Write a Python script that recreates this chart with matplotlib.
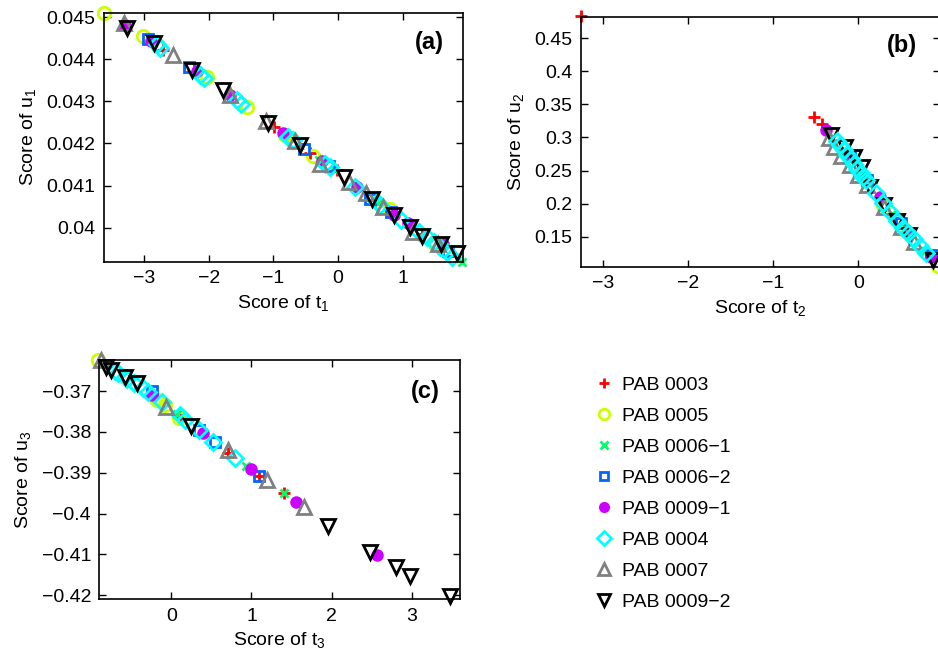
import numpy as np
import matplotlib
matplotlib.use('Agg')
import matplotlib.pyplot as plt
from matplotlib.ticker import FuncFormatter

plt.rcParams['font.family'] = ['Liberation Sans', 'DejaVu Sans']
plt.rcParams['mathtext.default'] = 'regular'
plt.rcParams['font.size'] = 14

labels = ['PAB 0003', 'PAB 0005', 'PAB 0006\u22121', 'PAB 0006\u22122',
          'PAB 0009\u22121', 'PAB 0004', 'PAB 0007', 'PAB 0009\u22122']

# panel (a): score of t1 vs u1, one list of (t, u) per sample
a_t = [
    [-2.70, -0.99, -0.43, -0.02, 1.30],
    [-3.62, -3.01, -2.03, -1.41, -0.82, -0.38, 0.80, 1.50],
    [-0.30, -0.04, 0.62, 1.92],
    [-2.94, -2.30, -0.53, -0.14, 0.49, 0.82, 1.71],
    [-3.29, -2.89, -2.18, -1.67, -0.85, -0.25, 0.30, 0.87, 1.09, 1.63],
    [-2.80, -2.75, -2.13, -2.08, -1.56, -1.50, -0.77, -0.69, -0.20, -0.12,
     0.27, 0.60, 0.65, 0.98, 1.25, 1.38, 1.48, 1.58, 1.69, 1.76],
    [-3.31, -2.55, -1.67, -1.11, -0.66, -0.28, 0.17, 0.44, 0.70, 1.16, 1.55],
    [-3.27, -2.84, -2.26, -1.78, -1.08, -0.59, 0.09, 0.52, 0.87, 1.12, 1.30, 1.60, 1.84],
]
a_u = [
    [0.04422, 0.04240, 0.04178, 0.04136, 0.03985],
    [0.04511, 0.04455, 0.04357, 0.04286, 0.04221, 0.04170, 0.04045, 0.03960],
    [0.04160, 0.04138, 0.04058, 0.03918],
    [0.04448, 0.04382, 0.04186, 0.04146, 0.04069, 0.04038, 0.03945],
    [0.04482, 0.04444, 0.04372, 0.04315, 0.04225, 0.04158, 0.04096, 0.04029, 0.04010, 0.03960],
    [0.04436, 0.04428, 0.04363, 0.04355, 0.04303, 0.04295, 0.04216, 0.04208, 0.04152, 0.04144,
     0.04097, 0.04061, 0.04053, 0.04017, 0.03990, 0.03978, 0.03966, 0.03954, 0.03942, 0.03930],
    [0.04486, 0.04410, 0.04315, 0.04254, 0.04205, 0.04152, 0.04109, 0.04081, 0.04050, 0.03990, 0.03960],
    [0.04474, 0.04440, 0.04375, 0.04327, 0.04248, 0.04196, 0.04120, 0.04069, 0.04029, 0.04001,
     0.03980, 0.03962, 0.03940],
]

# panel (b)
b_t = [
    [-3.25, -0.52, -0.42],
    [-0.20, 0.29, 0.55, 0.94],
    [-0.15, 0.05, 0.40, 0.78],
    [-0.10, 0.10, 0.50, 0.85],
    [-0.375, -0.12, 0.25, 0.58, 0.86],
    [-0.245, -0.21, -0.17, -0.13, -0.09, -0.05, -0.01, 0.03, 0.06, 0.09, 0.21, 0.29, 0.37,
     0.46, 0.53, 0.58, 0.65, 0.72, 0.80],
    [-0.34, -0.28, -0.20, -0.10, 0.00, 0.10, 0.30, 0.50, 0.65],
    [-0.32, -0.15, -0.05, 0.05, 0.14, 0.30, 0.46, 0.60, 0.88],
]
b_u = [
    [0.483, 0.331, 0.320],
    [0.287, 0.198, 0.160, 0.105],
    [0.280, 0.245, 0.185, 0.128],
    [0.272, 0.235, 0.170, 0.122],
    [0.312, 0.275, 0.210, 0.156, 0.120],
    [0.294, 0.288, 0.281, 0.274, 0.267, 0.260, 0.253, 0.246, 0.240, 0.235, 0.216, 0.201, 0.188,
     0.174, 0.163, 0.156, 0.146, 0.136, 0.126],
    [0.299, 0.285, 0.272, 0.258, 0.244, 0.228, 0.195, 0.165, 0.142],
    [0.304, 0.285, 0.270, 0.255, 0.225, 0.198, 0.173, 0.152, 0.115],
]

# panel (c)
c_t = [
    [0.12, 0.71, 1.10, 1.41],
    [-0.91, -0.18, -0.08, 0.10],
    [0.07, 0.93, 1.41],
    [-0.24, 0.35, 0.55, 1.10],
    [-0.24, 0.40, 0.99, 1.55, 2.56],
    [-0.70, -0.66, -0.55, -0.47, -0.35, -0.29, -0.12, 0.11, 0.17, 0.35, 0.52, 0.79],
    [-0.87, -0.06, 0.71, 1.19, 1.65],
    [-0.81, -0.75, -0.58, -0.43, 0.25, 1.95, 2.48, 2.80, 2.98, 3.48],
]
c_u = [
    [-0.3765, -0.3851, -0.3907, -0.3950],
    [-0.3624, -0.3722, -0.3735, -0.3765],
    [-0.3755, -0.3883, -0.3950],
    [-0.3700, -0.3795, -0.3824, -0.3907],
    [-0.3710, -0.3803, -0.3891, -0.3972, -0.4101],
    [-0.3650, -0.3657, -0.3670, -0.3681, -0.3693, -0.3702, -0.3726, -0.3759, -0.3771, -0.3795, -0.3824, -0.3865],
    [-0.3625, -0.3738, -0.3844, -0.3918, -0.3983],
    [-0.3641, -0.3649, -0.3665, -0.3680, -0.3786, -0.4030, -0.4095, -0.4132, -0.4152, -0.4201],
]

colors = ['#ff0000', '#ccff00', '#00ff66', '#0066ff', '#cc00ff', '#00ffff', '#808080', '#000000']
markers = ['+', 'o', 'x', 's', 'o', 'D', '^', 'v']
msizes = [8, 9, 6, 7, 7, 8, 10, 10]

fig = plt.figure(figsize=(9.38, 6.59), dpi=100)
axa = fig.add_axes([0.1109, 0.6024, 0.3827, 0.3783])
axb = fig.add_axes([0.6194, 0.5953, 0.3827, 0.3794])
axc = fig.add_axes([0.1059, 0.0906, 0.3845, 0.3631])

fmt = FuncFormatter(lambda v, p: ('%g' % round(v, 6)).replace('-', '\u2212'))


def draw(ax, ts, us, cyan_top=False):
    hs = []
    for i in range(len(ts)):
        filled = i == 4
        z = 3 if (cyan_top and i == 5) else 2
        h, = ax.plot(ts[i], us[i], linestyle='none', marker=markers[i], ms=msizes[i],
                     mec=colors[i], mfc=colors[i] if filled else 'none', mew=2,
                     clip_on=False, zorder=z)
        hs.append(h)
    ax.tick_params(direction='in', top=True, right=True, length=5, width=1,
                   labelsize=14, pad=6)
    for s in ax.spines.values():
        s.set_linewidth(1.2)
    ax.yaxis.set_major_formatter(fmt)
    ax.xaxis.set_major_formatter(fmt)
    return hs


handles = draw(axa, a_t, a_u)
axa.set_xlim(-3.62, 1.935)
axa.set_ylim(0.03918, 0.04511)
axa.set_xticks([-3, -2, -1, 0, 1])
axa.set_yticks(np.arange(0.040, 0.0451, 0.001))
axa.set_xlabel('Score of t$_1$', fontsize=14, labelpad=4)
axa.set_ylabel('Score of u$_1$', fontsize=14, labelpad=6)
axa.text(0.905, 0.88, '(a)', transform=axa.transAxes, ha='center', va='center',
         fontsize=17, fontweight='bold')

draw(axb, b_t, b_u, cyan_top=True)
axb.set_xlim(-3.255, 0.96)
axb.set_ylim(0.1046, 0.4827)
axb.set_xticks([-3, -2, -1, 0])
axb.set_yticks([0.15, 0.2, 0.25, 0.3, 0.35, 0.4, 0.45])
axb.set_xlabel('Score of t$_2$', fontsize=14, labelpad=4)
axb.set_ylabel('Score of u$_2$', fontsize=14, labelpad=6)
axb.text(0.895, 0.885, '(b)', transform=axb.transAxes, ha='center', va='center',
         fontsize=17, fontweight='bold')

draw(axc, c_t, c_u)
axc.set_xlim(-0.897, 3.6)
axc.set_ylim(-0.421, -0.3624)
axc.set_xticks([0, 1, 2, 3])
axc.set_yticks([-0.42, -0.41, -0.40, -0.39, -0.38, -0.37])
axc.set_xlabel('Score of t$_3$', fontsize=14, labelpad=4)
axc.set_ylabel('Score of u$_3$', fontsize=14, labelpad=6)
axc.text(0.905, 0.87, '(c)', transform=axc.transAxes, ha='center', va='center',
         fontsize=17, fontweight='bold')

fig.legend(handles, labels, loc='upper left', bbox_to_anchor=(0.615, 0.456),
           frameon=False, fontsize=14, labelspacing=0.69, handlelength=1.0,
           handletextpad=0.4, markerscale=0.85)

fig.savefig('out.png', dpi=100)
